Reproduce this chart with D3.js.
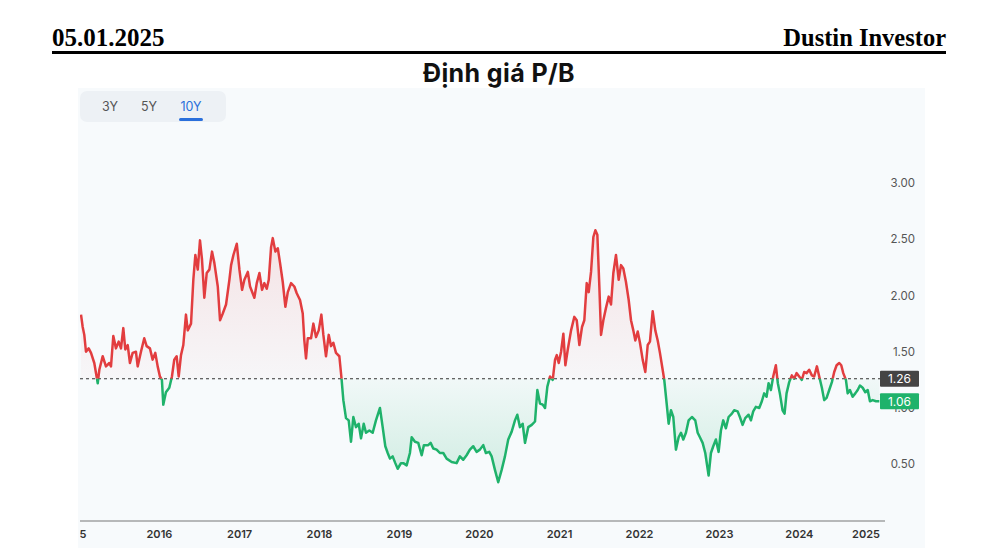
<!DOCTYPE html>
<html><head><meta charset="utf-8">
<script src="https://cdn.jsdelivr.net/npm/d3@7"></script>
<style>html,body{margin:0;padding:0;background:#fff;} svg{display:block;}</style>
</head><body><svg id="c" width="996" height="553"></svg>
<script>
const headerDate = "05.01.2025";
const headerBrand = "Dustin Investor";
const chartTitle = "Định giá P/B";
const rangeButtons = ["3Y", "5Y", "10Y"];
const activeRange = "10Y";
const yTickValues = [0.5, 1, 1.5, 2, 2.5, 3];
const xTickYears = [2015, 2016, 2017, 2018, 2019, 2020, 2021, 2022, 2023, 2024, 2025];
const averageValue = 1.26;
const latestValue = 1.06;
// observation times (decimal years) and P/B values
const years = [
2015.019,2015.040,2015.060,2015.081,2015.115,2015.144,2015.185,2015.228,2015.248,2015.290,2015.331,2015.373,2015.394,2015.423,2015.456,2015.490,2015.519,2015.548,2015.573,2015.603,2015.631,2015.665,2015.706,2015.728,2015.769,2015.810,2015.840,2015.881,2015.915,2015.948,2015.978,
2016.006,2016.031,2016.048,2016.081,2016.123,2016.156,2016.185,2016.215,2016.240,2016.269,2016.298,2016.331,2016.353,2016.394,2016.423,2016.448,2016.478,2016.506,2016.531,2016.560,2016.590,2016.623,2016.656,2016.685,2016.728,2016.756,2016.790,2016.831,2016.873,2016.894,2016.923,2016.965,2016.998,
2017.031,2017.060,2017.103,2017.131,2017.185,2017.215,2017.248,2017.281,2017.310,2017.340,2017.365,2017.394,2017.415,2017.448,2017.478,2017.506,2017.540,2017.573,2017.603,2017.644,2017.685,2017.715,2017.756,2017.790,2017.810,2017.831,2017.853,2017.894,2017.923,2017.956,2017.990,
2018.023,2018.048,2018.081,2018.115,2018.144,2018.173,2018.206,2018.248,2018.273,2018.298,2018.331,2018.365,2018.394,2018.423,2018.456,2018.490,2018.519,2018.553,2018.581,2018.623,2018.665,2018.706,2018.756,2018.790,2018.823,2018.853,2018.881,2018.915,2018.948,2018.978,
2019.019,2019.048,2019.090,2019.131,2019.153,2019.194,2019.235,2019.278,2019.306,2019.360,2019.390,2019.423,2019.465,2019.506,2019.548,2019.590,2019.653,2019.715,2019.756,2019.798,2019.840,2019.881,2019.923,2019.965,
2020.006,2020.048,2020.081,2020.123,2020.153,2020.194,2020.235,2020.278,2020.319,2020.360,2020.403,2020.444,2020.473,2020.506,2020.540,2020.569,2020.610,2020.653,2020.694,2020.723,2020.756,2020.790,2020.819,2020.848,2020.881,2020.915,2020.944,2020.965,2020.990,
2021.019,2021.048,2021.073,2021.103,2021.144,2021.185,2021.215,2021.248,2021.281,2021.310,2021.340,2021.365,2021.394,2021.423,2021.448,2021.473,2021.498,2021.519,2021.548,2021.581,2021.615,2021.644,2021.673,2021.706,2021.740,2021.769,2021.798,2021.831,2021.865,2021.894,2021.923,2021.948,2021.978,
2022.006,2022.040,2022.073,2022.103,2022.131,2022.165,2022.198,2022.228,2022.256,2022.290,2022.310,2022.340,2022.365,2022.394,2022.423,2022.456,2022.490,2022.519,2022.548,2022.581,2022.615,2022.656,2022.698,2022.728,2022.756,2022.790,2022.823,2022.865,2022.894,2022.923,2022.956,2022.990,
2023.019,2023.048,2023.081,2023.115,2023.156,2023.185,2023.228,2023.256,2023.290,2023.323,2023.365,2023.394,2023.423,2023.456,2023.498,2023.531,2023.560,2023.590,2023.615,2023.644,2023.673,2023.706,2023.731,2023.756,2023.790,2023.815,2023.840,2023.873,2023.906,2023.935,2023.965,2023.998,
2024.031,2024.060,2024.090,2024.123,2024.156,2024.185,2024.219,2024.248,2024.281,2024.310,2024.340,2024.373,2024.406,2024.435,2024.465,2024.498,2024.523,2024.548,2024.581,2024.603,2024.631,2024.665,2024.698,2024.728,2024.756,2024.790,2024.823,2024.853,2024.881,2024.915,2024.956,2024.998
];
const values = [
1.83,1.72,1.65,1.50,1.53,1.49,1.40,1.22,1.34,1.46,1.37,1.40,1.37,1.64,1.53,1.59,1.53,1.71,1.52,1.56,1.40,1.49,1.50,1.37,1.50,1.62,1.55,1.53,1.43,1.49,1.37,
1.28,1.25,1.03,1.14,1.18,1.28,1.43,1.46,1.28,1.47,1.56,1.83,1.69,1.75,2.14,2.36,2.23,2.49,2.32,1.98,2.20,2.23,2.39,2.29,2.08,1.78,1.84,1.92,2.14,2.27,2.36,2.46,2.23,
2.05,2.14,2.21,2.08,1.98,2.11,2.20,2.05,2.11,2.06,2.14,2.43,2.51,2.39,2.42,2.29,2.12,1.90,2.03,2.11,2.08,2.02,1.96,1.84,1.60,1.44,1.62,1.62,1.75,1.63,1.69,
1.83,1.65,1.46,1.65,1.55,1.58,1.49,1.46,1.28,1.07,0.91,0.89,0.70,0.92,0.83,0.86,0.73,0.86,0.78,0.80,0.78,0.89,1.00,0.83,0.66,0.60,0.55,0.57,0.51,0.46,
0.51,0.51,0.49,0.60,0.74,0.70,0.69,0.58,0.67,0.67,0.69,0.64,0.63,0.60,0.60,0.55,0.52,0.51,0.57,0.54,0.58,0.63,0.66,0.61,
0.63,0.67,0.60,0.61,0.57,0.45,0.34,0.45,0.57,0.72,0.79,0.89,0.94,0.83,0.86,0.69,0.83,0.85,0.88,1.16,1.04,1.03,1.00,1.19,1.28,1.25,1.43,1.47,1.40,
1.50,1.66,1.38,1.52,1.69,1.81,1.78,1.56,1.72,1.78,2.11,2.03,2.21,2.52,2.58,2.54,2.08,1.65,1.78,1.89,1.99,1.92,2.20,2.36,2.14,2.27,2.24,2.12,1.96,1.78,1.69,1.60,1.68,
1.58,1.43,1.32,1.56,1.59,1.86,1.69,1.60,1.49,1.34,1.25,1.04,0.86,0.98,0.92,0.63,0.74,0.78,0.72,0.78,0.89,0.92,0.89,0.78,0.74,0.69,0.60,0.40,0.60,0.66,0.72,0.61,
0.80,0.89,0.82,0.92,0.95,0.98,0.97,0.92,0.85,0.91,0.94,0.89,0.97,1.01,1.00,1.06,1.13,1.10,1.22,1.16,1.28,1.38,1.22,1.13,0.98,0.95,1.13,1.23,1.29,1.26,1.31,1.28,
1.25,1.32,1.31,1.34,1.29,1.28,1.37,1.28,1.18,1.07,1.09,1.16,1.23,1.32,1.38,1.40,1.38,1.31,1.25,1.13,1.16,1.10,1.13,1.16,1.20,1.18,1.14,1.16,1.06,1.07,1.06,1.06
];

const RED = "#e23d3f", GREEN = "#1fb26b";
const SANS = "Inter, 'Noto Sans', sans-serif";
const SERIF = "'Liberation Serif', 'Times New Roman', serif";
function toDate(t) {
  const y = Math.floor(t);
  const a = Date.UTC(y, 0, 1), b = Date.UTC(y + 1, 0, 1);
  return new Date(a + (t - y) * (b - a));
}
const data = years.map((t, i) => ({ date: toDate(t), value: values[i] }));

const svg = d3.select("#c");
const defs = svg.append("defs");

// header
svg.append("text").attr("x", 52).attr("y", 46).text(headerDate)
  .attr("font-family", SERIF).attr("font-weight", 700).attr("font-size", 25).attr("fill", "#000");
svg.append("text").attr("x", 946).attr("y", 46).attr("text-anchor", "end").text(headerBrand)
  .attr("font-family", SERIF).attr("font-weight", 700).attr("font-size", 24.5).attr("fill", "#000");
svg.append("rect").attr("x", 52).attr("y", 51).attr("width", 894).attr("height", 3).attr("fill", "#000");
svg.append("text").attr("x", 499).attr("y", 82).attr("text-anchor", "middle").text(chartTitle)
  .attr("font-family", SANS).attr("font-weight", 700).attr("letter-spacing", 0.4)
  .attr("font-size", 25).attr("fill", "#111");

// panel
svg.append("rect").attr("x", 78).attr("y", 88).attr("width", 847).attr("height", 460).attr("fill", "#f7fafc");

// range buttons
svg.append("rect").attr("x", 80).attr("y", 91).attr("width", 146).attr("height", 31).attr("rx", 7).attr("fill", "#edf1f5");
const btnPos = { "3Y": 110, "5Y": 149, "10Y": 191 };
rangeButtons.forEach(b => {
  svg.append("text").attr("x", btnPos[b]).attr("y", 111).attr("text-anchor", "middle").text(b)
    .attr("font-family", SANS).attr("font-size", 12.5)
    .attr("fill", b === activeRange ? "#2a6fdb" : "#555");
});
svg.append("rect").attr("x", btnPos[activeRange] - 12).attr("y", 118).attr("width", 24).attr("height", 3)
  .attr("rx", 1.5).attr("fill", "#2a6fdb");

// scales
const x = d3.scaleUtc().domain([toDate(2015), toDate(2025)]).range([79.5, 879.5]);
const y = d3.scaleLinear().domain([0, 3]).range([520.5, 183]);
const yAvg = y(averageValue);

// clip paths
defs.append("clipPath").attr("id", "above").append("rect")
  .attr("x", 80).attr("y", 150).attr("width", 805).attr("height", yAvg - 150);
defs.append("clipPath").attr("id", "below").append("rect")
  .attr("x", 80).attr("y", yAvg).attr("width", 805).attr("height", 520 - yAvg);

const gr = defs.append("linearGradient").attr("id", "gRed").attr("gradientUnits", "userSpaceOnUse")
  .attr("x1", 0).attr("x2", 0).attr("y1", y(2.6)).attr("y2", yAvg);
gr.append("stop").attr("offset", 0).attr("stop-color", RED).attr("stop-opacity", 0.13);
gr.append("stop").attr("offset", 1).attr("stop-color", RED).attr("stop-opacity", 0.02);
const gg = defs.append("linearGradient").attr("id", "gGreen").attr("gradientUnits", "userSpaceOnUse")
  .attr("x1", 0).attr("x2", 0).attr("y1", yAvg).attr("y2", y(0.35));
gg.append("stop").attr("offset", 0).attr("stop-color", GREEN).attr("stop-opacity", 0.03);
gg.append("stop").attr("offset", 1).attr("stop-color", GREEN).attr("stop-opacity", 0.18);

const area = d3.area().x(d => x(d.date)).y0(yAvg).y1(d => y(d.value));
const line = d3.line().x(d => x(d.date)).y(d => y(d.value));

svg.append("path").datum(data).attr("d", area).attr("fill", "url(#gRed)").attr("clip-path", "url(#above)");
svg.append("path").datum(data).attr("d", area).attr("fill", "url(#gGreen)").attr("clip-path", "url(#below)");

// y labels
yTickValues.forEach(v => {
  svg.append("text").attr("x", 915).attr("y", y(v) + 4).attr("text-anchor", "end")
    .text(d3.format(".2f")(v)).attr("font-family", SANS)
    .attr("font-size", 11.5).attr("fill", "#555");
});

// dashed average
svg.append("line").attr("x1", 80).attr("x2", 880).attr("y1", yAvg).attr("y2", yAvg)
  .attr("stroke", "#333").attr("stroke-width", 1).attr("stroke-dasharray", "3,3");

// lines
svg.append("path").datum(data).attr("d", line).attr("fill", "none").attr("stroke", RED)
  .attr("stroke-width", 2.5).attr("stroke-linejoin", "round").attr("clip-path", "url(#above)");
svg.append("path").datum(data).attr("d", line).attr("fill", "none").attr("stroke", GREEN)
  .attr("stroke-width", 2.5).attr("stroke-linejoin", "round").attr("clip-path", "url(#below)");

// x axis
svg.append("line").attr("x1", 80).attr("x2", 885).attr("y1", 521).attr("y2", 521)
  .attr("stroke", "#777").attr("stroke-width", 1.2);
defs.append("clipPath").attr("id", "xlab").append("rect").attr("x", 80).attr("y", 522).attr("width", 810).attr("height", 30);
const xl = svg.append("g").attr("clip-path", "url(#xlab)");
xTickYears.forEach(yr => {
  const px = x(toDate(yr));
  const t = xl.append("text").attr("y", 538).text(String(yr))
    .attr("font-family", SANS).attr("font-weight", 600)
    .attr("font-size", 11).attr("fill", "#333");
  if (px + 14 > 880) t.attr("x", 880).attr("text-anchor", "end");
  else if (px - 14 < 80) t.attr("x", px + 7).attr("text-anchor", "end");
  else t.attr("x", px).attr("text-anchor", "middle");
});

// value badges
function badge(v, fill) {
  const cy = y(v);
  svg.append("rect").attr("x", 880).attr("y", cy - 8).attr("width", 39).attr("height", 16).attr("rx", 1).attr("fill", fill);
  svg.append("text").attr("x", 899.5).attr("y", cy + 4.5).attr("text-anchor", "middle").text(d3.format(".2f")(v))
    .attr("font-family", SANS).attr("font-size", 12).attr("fill", "#fff");
}
badge(averageValue, "#444");
badge(latestValue, GREEN);
</script></body></html>
